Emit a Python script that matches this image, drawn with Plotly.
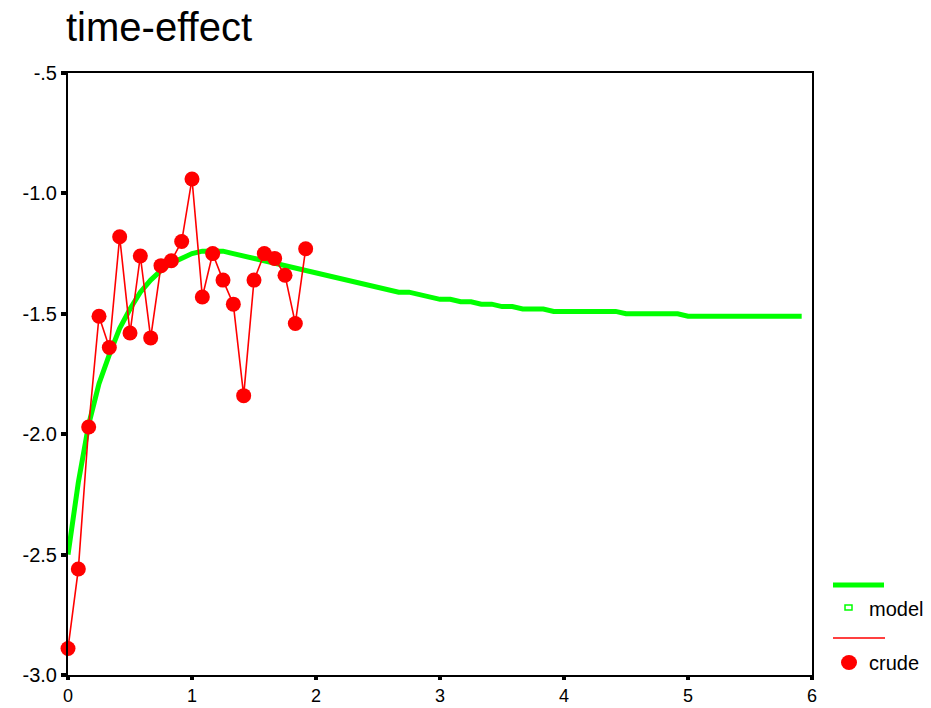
import plotly.graph_objects as go

# Monthly time axis (years), model fit and crude estimates
model_x = [k / 12 for k in range(72)]
model_y = [
    -2.50, -2.20, -1.96, -1.79, -1.67, -1.56, -1.48, -1.41, -1.36, -1.32, -1.29, -1.27,
    -1.25, -1.24, -1.24, -1.24, -1.25, -1.26, -1.27, -1.28, -1.29, -1.30, -1.31, -1.32,
    -1.33, -1.34, -1.35, -1.36, -1.37, -1.38, -1.39, -1.40, -1.41, -1.41, -1.42, -1.43,
    -1.44, -1.44, -1.45, -1.45, -1.46, -1.46, -1.47, -1.47, -1.48, -1.48, -1.48, -1.49,
    -1.49, -1.49, -1.49, -1.49, -1.49, -1.49, -1.50, -1.50, -1.50, -1.50, -1.50, -1.50,
    -1.51, -1.51, -1.51, -1.51, -1.51, -1.51, -1.51, -1.51, -1.51, -1.51, -1.51, -1.51,
]

crude_x = [k / 12 for k in range(24)]
crude_y = [
    -2.89, -2.56, -1.97, -1.51, -1.64, -1.18, -1.58, -1.26, -1.60, -1.30, -1.28, -1.20,
    -0.94, -1.43, -1.25, -1.36, -1.46, -1.84, -1.36, -1.25, -1.27, -1.34, -1.54, -1.23,
]

x_ticks = [0, 1, 2, 3, 4, 5, 6]
y_ticks = [-3.0, -2.5, -2.0, -1.5, -1.0, -0.5]
y_tick_text = ["-3.0", "-2.5", "-2.0", "-1.5", "-1.0", "-.5"]

GREEN = "#00ff00"
RED = "#ff0000"
FONT = "Liberation Sans, Arial, sans-serif"

fig = go.Figure()
fig.add_trace(go.Scatter(
    x=model_x, y=model_y, mode="lines", name="model",
    line=dict(color=GREEN, width=5), showlegend=False,
))
fig.add_trace(go.Scatter(
    x=crude_x, y=crude_y, mode="lines+markers", name="crude",
    line=dict(color=RED, width=1.6),
    marker=dict(color=RED, size=15, symbol="circle"),
    showlegend=False, cliponaxis=False,
))

W, H = 931, 708
L, R, T, B = 68, 119, 73, 33
pw, ph = W - L - R, H - T - B


def px(x):
    return (x - L) / pw


def py(y):
    return (H - B - y) / ph


# Legend drawn beside the plot: line row and symbol row for each series
shapes = [
    dict(type="line", xref="paper", yref="paper", x0=px(833), x1=px(884),
         y0=py(585), y1=py(585), line=dict(color=GREEN, width=5)),
    dict(type="rect", xref="paper", yref="paper", x0=px(845), x1=px(852),
         y0=py(610), y1=py(605), line=dict(color=GREEN, width=1.5),
         fillcolor="white"),
    dict(type="line", xref="paper", yref="paper", x0=px(833), x1=px(885),
         y0=py(638), y1=py(638), line=dict(color=RED, width=1.6)),
    dict(type="circle", xref="paper", yref="paper", x0=px(841), x1=px(857),
         y0=py(670), y1=py(655), line=dict(color=RED, width=0),
         fillcolor=RED),
]
annotations = [
    dict(text="model", xref="paper", yref="paper", x=px(867), y=py(609),
         xanchor="left", yanchor="middle", showarrow=False,
         font=dict(family=FONT, size=20, color="black")),
    dict(text="crude", xref="paper", yref="paper", x=px(867), y=py(663),
         xanchor="left", yanchor="middle", showarrow=False,
         font=dict(family=FONT, size=20, color="black")),
]

axis_style = dict(
    showgrid=False, zeroline=False, showline=True, mirror=True,
    linecolor="black", linewidth=2, ticks="outside",
    tickwidth=4, tickcolor="black", automargin=False,
)

fig.update_layout(
    width=W, height=H,
    margin=dict(l=L, r=R, t=T, b=B, pad=0, autoexpand=False),
    paper_bgcolor="white", plot_bgcolor="white",
    font=dict(family=FONT, size=20, color="black"),
    title=dict(text="time-effect", x=66 / W, xanchor="left",
               y=1 - 27 / H, yanchor="middle",
               font=dict(family=FONT, size=40, color="black")),
    shapes=shapes, annotations=annotations,
    xaxis=dict(range=[0, 6], tickvals=x_ticks,
               ticktext=[str(v) for v in x_ticks], ticklen=3,
               tickfont=dict(family=FONT, size=18, color="black"),
               **axis_style),
    yaxis=dict(range=[-3.0, -0.5], tickvals=y_ticks,
               ticktext=y_tick_text, ticklen=5,
               tickfont=dict(family=FONT, size=20, color="black"),
               **axis_style),
)

fig.write_html("out.html")
